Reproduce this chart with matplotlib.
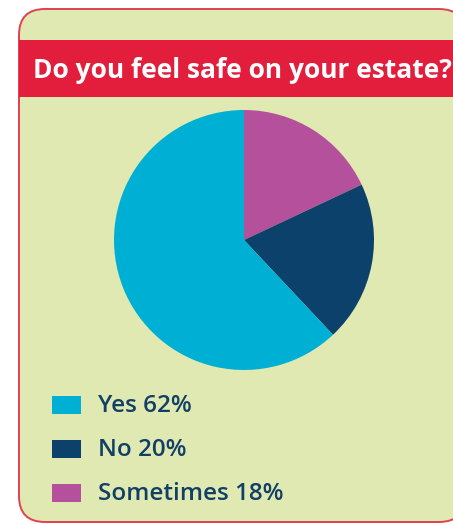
import matplotlib.pyplot as plt
from matplotlib.patches import FancyBboxPatch, Rectangle

labels = ["Sometimes", "No", "Yes"]
values = [18, 20, 62]
colors = ["#b5519c", "#0c416b", "#00b0d4"]
legend_order = ["Yes", "No", "Sometimes"]
title = "Do you feel safe on your estate?"

W, H = 453, 524
fig = plt.figure(figsize=(W / 100, H / 100), dpi=100)

# background panel drawn in pixel coordinates
bg = fig.add_axes([0, 0, 1, 1])
bg.set_xlim(0, W)
bg.set_ylim(H, 0)
bg.axis("off")

panel = FancyBboxPatch((19, 9), 446, 513, boxstyle="round,pad=0,rounding_size=26",
                       facecolor="#dfe9b1", edgecolor="#e0404f", linewidth=1.4)
bg.add_patch(panel)
bg.add_patch(Rectangle((19, 40), 450, 57, facecolor="#e21e3c", edgecolor="none"))
bg.text(33, 70, title, color="white", fontsize=19, fontweight="bold",
        family="Open Sans", va="center", ha="left")

# legend
for i, name in enumerate(legend_order):
    k = labels.index(name)
    y = 405 + i * 44
    bg.add_patch(Rectangle((52, y - 9), 29, 18, facecolor=colors[k], edgecolor="none"))
    bg.text(98, y + 1, f"{name} {values[k]}%", color="#123f66", fontsize=17.5,
            family="Open Sans", fontweight="semibold", va="center", ha="left")

# pie
cx, cy, r = 244, 240, 130
ax = fig.add_axes([(cx - r) / W, 1 - (cy + r) / H, 2 * r / W, 2 * r / H])
ax.pie(values, colors=colors, startangle=90, counterclock=False,
       wedgeprops=dict(linewidth=0))
ax.set_xlim(-1, 1)
ax.set_ylim(-1, 1)
ax.axis("off")

fig.savefig("out.png", dpi=100)
